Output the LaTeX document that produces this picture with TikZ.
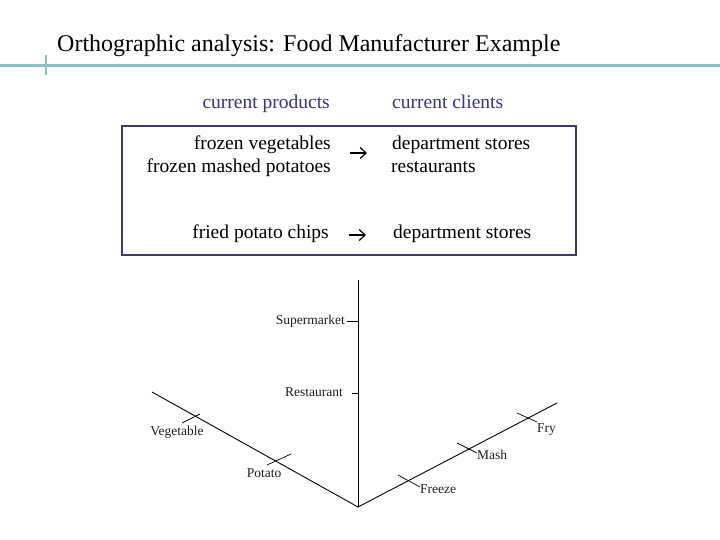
\documentclass[tikz,border=0pt]{standalone}
\usepackage{fontspec}
\setmainfont{Liberation Serif}
\usetikzlibrary{arrows.meta}
\definecolor{barcol}{RGB}{140,192,196}
\definecolor{headcol}{RGB}{51,51,136}
\definecolor{boxcol}{RGB}{60,58,110}
\definecolor{axtext}{RGB}{30,30,30}
\tikzset{
  titletext/.style={font=\fontsize{24}{28}\selectfont, inner sep=0pt},
  headtext/.style={font=\fontsize{19.5}{23}\selectfont, text=headcol, inner sep=0pt},
  bodytext/.style={font=\fontsize{19.5}{23}\selectfont, inner sep=0pt},
  axlabel/.style={font=\fontsize{13.5}{15}\selectfont, text=axtext, inner sep=0pt},
  axisline/.style={line width=0.9pt},
  tickline/.style={line width=0.7pt},
  maparrow/.style={line width=1.2pt, -{Straight Barb[length=6pt,width=11pt,line width=1.2pt]}},
}
\begin{document}
\begin{tikzpicture}[x=1pt,y=-1pt]
\useasboundingbox (0,0) rectangle (720,540);
% title bar
\node[titletext, anchor=base west] (title) at (57,52) {Orthographic analysis: Food Manufacturer Example};
\draw[barcol, line width=3pt] (0,66) -- (720,66);
\draw[barcol, line width=2pt] (46,55) -- (46,75);
% headers
\node[headtext, anchor=base east] (hprod) at (330,109) {current products};
\node[headtext, anchor=base west] (hcli) at (392,109) {current clients};
% box
\draw[boxcol, line width=1.3pt] (122,126) rectangle (576,255);
\node[bodytext, anchor=base east] (p1) at (331,150) {frozen vegetables};
\node[bodytext, anchor=base east] (p2) at (331,173) {frozen mashed potatoes};
\node[bodytext, anchor=base west] (c1) at (392,150) {department stores};
\node[bodytext, anchor=base west] (c2) at (391,173) {restaurants};
\node[bodytext, anchor=base east] (p3) at (329,239) {fried potato chips};
\node[bodytext, anchor=base west] (c3) at (393,239) {department stores};
\coordinate (a1s) at (350,153);
\coordinate (a1e) at (367,153);
\coordinate (a2s) at (349,235);
\coordinate (a2e) at (366,235);
\draw[maparrow] (a1s) -- (a1e);
\draw[maparrow] (a2s) -- (a2e);
% axes
\coordinate (V) at (358,507);
\coordinate (top) at (358,280);
\coordinate (L) at (152,392);
\coordinate (R) at (557,403);
\draw[axisline] (top) -- (V);
\draw[axisline] (L) -- (V) -- (R);
% vertical ticks
\draw[tickline] (347,321) -- (358,321);
\draw[tickline] (352,393) -- (358,393);
\node[axlabel, anchor=mid east] (sup) at (345,322) {Supermarket};
\node[axlabel, anchor=mid east] (res) at (343,394) {Restaurant};
% left axis ticks
\draw[tickline] (182,423) -- (200,414);
\draw[tickline] (267,465) -- (291,454);
\node[axlabel, anchor=mid] (veg) at (177,433) {Vegetable};
\node[axlabel, anchor=mid] (pot) at (264,475) {Potato};
% right axis ticks
\draw[tickline] (517,413) -- (537,422);
\draw[tickline] (457,443) -- (477,453);
\draw[tickline] (398,475) -- (420,487);
\node[axlabel, anchor=mid west] (fry) at (537,430) {Fry};
\node[axlabel, anchor=mid west] (mash) at (477,457) {Mash};
\node[axlabel, anchor=mid west] (frz) at (420,491) {Freeze};
\end{tikzpicture}
\end{document}
